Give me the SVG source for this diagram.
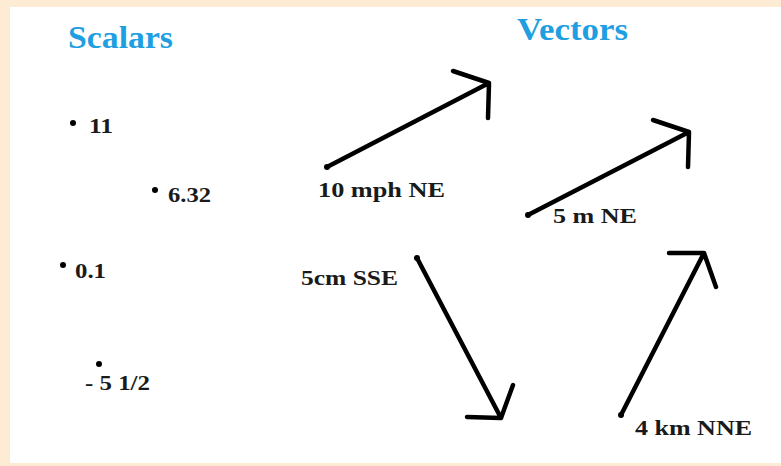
<svg xmlns="http://www.w3.org/2000/svg" width="781" height="466" viewBox="0 0 781 466">
<style>
.title{font-family:"Liberation Serif",serif;font-weight:bold;font-size:31px;fill:#1F9FE2}
.lbl{font-family:"Liberation Serif",serif;font-weight:bold;font-size:22px;fill:#1a1a1a}
.arr{fill:none;stroke:#000;stroke-width:4.5;stroke-linecap:round;stroke-linejoin:round}
.dot{fill:#000}
</style>
<rect x="0" y="0" width="781" height="466" fill="#FDEBD3"/>
<rect x="10" y="7" width="771" height="456" fill="#FFFFFF"/>
<g id="scalars-title"><text class="title" x="68" y="48" textLength="105" lengthAdjust="spacingAndGlyphs">Scalars</text></g>
<g id="vectors-title"><text class="title" x="517" y="40" textLength="111" lengthAdjust="spacingAndGlyphs">Vectors</text></g>
<g id="s-11"><circle class="dot" cx="73" cy="123" r="3"/><text class="lbl" x="89" y="133" textLength="24" lengthAdjust="spacingAndGlyphs">11</text></g>
<g id="s-632"><circle class="dot" cx="155" cy="190" r="3"/><text class="lbl" x="168" y="202" textLength="43" lengthAdjust="spacingAndGlyphs">6.32</text></g>
<g id="s-01"><circle class="dot" cx="63" cy="265" r="3"/><text class="lbl" x="75" y="278" textLength="31" lengthAdjust="spacingAndGlyphs">0.1</text></g>
<g id="s-512"><circle class="dot" cx="99" cy="364" r="3"/><text class="lbl" x="85" y="390" textLength="65" lengthAdjust="spacingAndGlyphs">- 5 1/2</text></g>
<g id="connectors">
<g id="v-10mph"><path class="arr" d="M327,167 L489,83 M453,71 L489,83 L488,118"/><circle class="dot" cx="327" cy="167" r="3"/></g>
<g id="v-5m"><path class="arr" d="M528,215 L689,132 M653,120 L689,132 L688,167"/><circle class="dot" cx="528" cy="215" r="3"/></g>
<g id="v-5cm"><path class="arr" d="M417,258 L501,418 M467,417 L501,418 L513,385"/><circle class="dot" cx="417" cy="258" r="3"/></g>
<g id="v-4km"><path class="arr" d="M621,415 L704,253 M669,253 L704,253 L716,287"/><circle class="dot" cx="621" cy="415" r="3"/></g>
</g>
<g id="l-10mph"><text class="lbl" x="318" y="197" textLength="127" lengthAdjust="spacingAndGlyphs">10 mph  NE</text></g>
<g id="l-5m"><text class="lbl" x="553" y="223" textLength="84" lengthAdjust="spacingAndGlyphs">5 m NE</text></g>
<g id="l-5cm"><text class="lbl" x="301" y="285" textLength="97" lengthAdjust="spacingAndGlyphs">5cm SSE</text></g>
<g id="l-4km"><text class="lbl" x="635" y="435" textLength="117" lengthAdjust="spacingAndGlyphs">4 km NNE</text></g>
</svg>
